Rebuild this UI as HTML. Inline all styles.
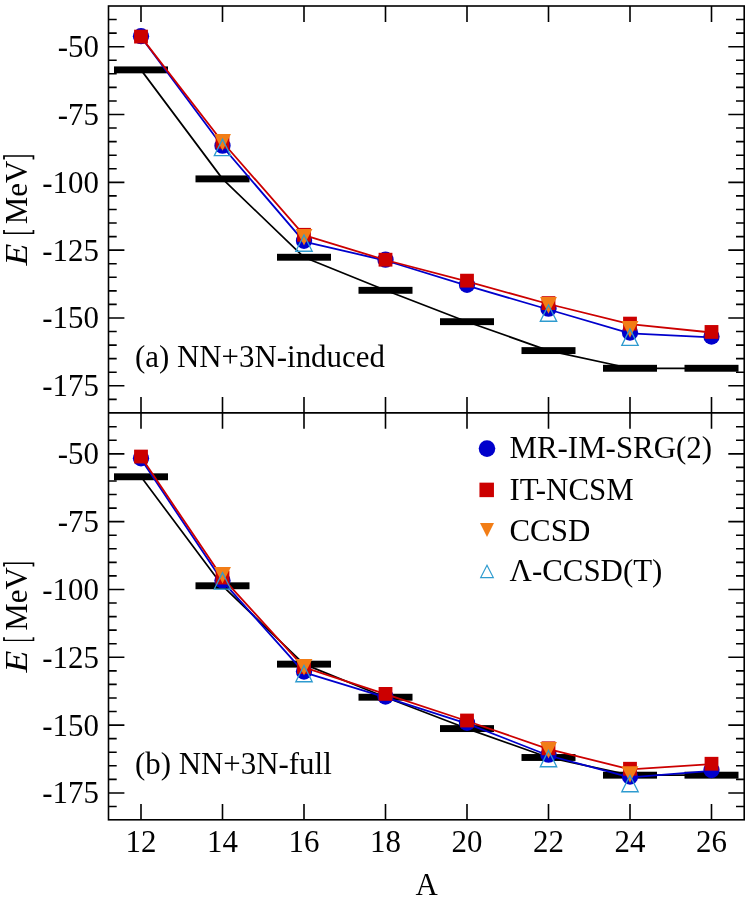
<!DOCTYPE html>
<html><head><meta charset="utf-8"><title>chart</title>
<style>html,body{margin:0;padding:0;background:#fff}body{width:747px;height:898px;position:relative;overflow:hidden;font-family:"Liberation Serif",serif}</style>
</head><body>
<svg width="747" height="898" viewBox="0 0 747 898" style="position:absolute;left:0;top:0">
<rect x="0" y="0" width="747" height="898" fill="#fff"/>
<path d="M141.00 6.0 v15.9 M141.00 397.0 v31.8 M141.00 819.8 v-15.9 M222.50 6.0 v15.9 M222.50 397.0 v31.8 M222.50 819.8 v-15.9 M304.00 6.0 v15.9 M304.00 397.0 v31.8 M304.00 819.8 v-15.9 M385.50 6.0 v15.9 M385.50 397.0 v31.8 M385.50 819.8 v-15.9 M467.00 6.0 v15.9 M467.00 397.0 v31.8 M467.00 819.8 v-15.9 M548.50 6.0 v15.9 M548.50 397.0 v31.8 M548.50 819.8 v-15.9 M630.00 6.0 v15.9 M630.00 397.0 v31.8 M630.00 819.8 v-15.9 M711.50 6.0 v15.9 M711.50 397.0 v31.8 M711.50 819.8 v-15.9 M108.5 399.34 h8.2 M744.2 399.34 h-8.2 M108.5 385.78 h15.9 M744.2 385.78 h-15.9 M108.5 372.21 h8.2 M744.2 372.21 h-8.2 M108.5 358.65 h8.2 M744.2 358.65 h-8.2 M108.5 345.09 h8.2 M744.2 345.09 h-8.2 M108.5 331.52 h8.2 M744.2 331.52 h-8.2 M108.5 317.96 h15.9 M744.2 317.96 h-15.9 M108.5 304.40 h8.2 M744.2 304.40 h-8.2 M108.5 290.83 h8.2 M744.2 290.83 h-8.2 M108.5 277.27 h8.2 M744.2 277.27 h-8.2 M108.5 263.71 h8.2 M744.2 263.71 h-8.2 M108.5 250.14 h15.9 M744.2 250.14 h-15.9 M108.5 236.58 h8.2 M744.2 236.58 h-8.2 M108.5 223.02 h8.2 M744.2 223.02 h-8.2 M108.5 209.45 h8.2 M744.2 209.45 h-8.2 M108.5 195.89 h8.2 M744.2 195.89 h-8.2 M108.5 182.33 h15.9 M744.2 182.33 h-15.9 M108.5 168.76 h8.2 M744.2 168.76 h-8.2 M108.5 155.20 h8.2 M744.2 155.20 h-8.2 M108.5 141.63 h8.2 M744.2 141.63 h-8.2 M108.5 128.07 h8.2 M744.2 128.07 h-8.2 M108.5 114.51 h15.9 M744.2 114.51 h-15.9 M108.5 100.94 h8.2 M744.2 100.94 h-8.2 M108.5 87.38 h8.2 M744.2 87.38 h-8.2 M108.5 73.82 h8.2 M744.2 73.82 h-8.2 M108.5 60.25 h8.2 M744.2 60.25 h-8.2 M108.5 46.69 h15.9 M744.2 46.69 h-15.9 M108.5 33.13 h8.2 M744.2 33.13 h-8.2 M108.5 19.56 h8.2 M744.2 19.56 h-8.2 M108.5 806.49 h8.2 M744.2 806.49 h-8.2 M108.5 792.93 h15.9 M744.2 792.93 h-15.9 M108.5 779.36 h8.2 M744.2 779.36 h-8.2 M108.5 765.80 h8.2 M744.2 765.80 h-8.2 M108.5 752.24 h8.2 M744.2 752.24 h-8.2 M108.5 738.67 h8.2 M744.2 738.67 h-8.2 M108.5 725.11 h15.9 M744.2 725.11 h-15.9 M108.5 711.55 h8.2 M744.2 711.55 h-8.2 M108.5 697.98 h8.2 M744.2 697.98 h-8.2 M108.5 684.42 h8.2 M744.2 684.42 h-8.2 M108.5 670.86 h8.2 M744.2 670.86 h-8.2 M108.5 657.29 h15.9 M744.2 657.29 h-15.9 M108.5 643.73 h8.2 M744.2 643.73 h-8.2 M108.5 630.17 h8.2 M744.2 630.17 h-8.2 M108.5 616.60 h8.2 M744.2 616.60 h-8.2 M108.5 603.04 h8.2 M744.2 603.04 h-8.2 M108.5 589.48 h15.9 M744.2 589.48 h-15.9 M108.5 575.91 h8.2 M744.2 575.91 h-8.2 M108.5 562.35 h8.2 M744.2 562.35 h-8.2 M108.5 548.78 h8.2 M744.2 548.78 h-8.2 M108.5 535.22 h8.2 M744.2 535.22 h-8.2 M108.5 521.66 h15.9 M744.2 521.66 h-15.9 M108.5 508.09 h8.2 M744.2 508.09 h-8.2 M108.5 494.53 h8.2 M744.2 494.53 h-8.2 M108.5 480.97 h8.2 M744.2 480.97 h-8.2 M108.5 467.40 h8.2 M744.2 467.40 h-8.2 M108.5 453.84 h15.9 M744.2 453.84 h-15.9 M108.5 440.28 h8.2 M744.2 440.28 h-8.2 M108.5 426.71 h8.2 M744.2 426.71 h-8.2" stroke="#000" stroke-width="1.6" fill="none"/>
<clipPath id="ca"><rect x="108.5" y="6.0" width="635.7" height="406.9"/></clipPath>
<clipPath id="cb"><rect x="108.5" y="412.9" width="635.7" height="406.9"/></clipPath>
<g clip-path="url(#ca)">
<polyline points="141.00,69.88 222.50,178.88 304.00,257.25 385.50,290.32 467.00,321.68 548.50,350.59 630.00,368.28 711.50,368.28" stroke="#000" stroke-width="1.7" fill="none" stroke-linejoin="round"/>
<rect x="114.00" y="66.43" width="54.00" height="6.9" fill="#000"/>
<rect x="195.50" y="175.43" width="54.00" height="6.9" fill="#000"/>
<rect x="277.00" y="253.80" width="54.00" height="6.9" fill="#000"/>
<rect x="358.50" y="286.87" width="54.00" height="6.9" fill="#000"/>
<rect x="440.00" y="318.23" width="54.00" height="6.9" fill="#000"/>
<rect x="521.50" y="347.14" width="54.00" height="6.9" fill="#000"/>
<rect x="603.00" y="364.83" width="54.00" height="6.9" fill="#000"/>
<rect x="684.50" y="364.83" width="54.00" height="6.9" fill="#000"/>
<polyline points="141.00,37.00 222.50,146.50 304.00,241.60 385.50,260.50 467.00,285.60 548.50,309.50 630.00,333.30 711.50,337.30" stroke="#0000cc" stroke-width="1.8" fill="none" stroke-linejoin="round"/>
<circle cx="141.00" cy="36.20" r="8.15" fill="#0000cc"/>
<circle cx="222.50" cy="145.70" r="8.15" fill="#0000cc"/>
<circle cx="304.00" cy="240.80" r="8.15" fill="#0000cc"/>
<circle cx="385.50" cy="259.70" r="8.15" fill="#0000cc"/>
<circle cx="467.00" cy="284.80" r="8.15" fill="#0000cc"/>
<circle cx="548.50" cy="308.70" r="8.15" fill="#0000cc"/>
<circle cx="630.00" cy="332.50" r="8.15" fill="#0000cc"/>
<circle cx="711.50" cy="336.50" r="8.15" fill="#0000cc"/>
<polyline points="141.00,36.90 222.50,142.00 304.00,235.10 385.50,260.00 467.00,281.45 548.50,304.00 630.00,324.15 711.50,332.50" stroke="#cc0000" stroke-width="1.8" fill="none" stroke-linejoin="round"/>
<rect x="134.10" y="29.70" width="13.8" height="13.8" fill="#cc0000"/>
<rect x="215.60" y="134.80" width="13.8" height="13.8" fill="#cc0000"/>
<rect x="297.10" y="227.90" width="13.8" height="13.8" fill="#cc0000"/>
<rect x="378.60" y="252.80" width="13.8" height="13.8" fill="#cc0000"/>
<rect x="460.10" y="273.75" width="13.8" height="13.8" fill="#cc0000"/>
<rect x="541.60" y="296.20" width="13.8" height="13.8" fill="#cc0000"/>
<rect x="623.10" y="316.70" width="13.8" height="13.8" fill="#cc0000"/>
<rect x="704.60" y="325.05" width="13.8" height="13.8" fill="#cc0000"/>
<polygon points="214.05,134.10 230.95,134.10 222.50,150.70" fill="#f27d16"/>
<polygon points="295.55,229.00 312.45,229.00 304.00,245.60" fill="#f27d16"/>
<polygon points="540.05,297.05 556.95,297.05 548.50,313.65" fill="#f27d16"/>
<polygon points="621.55,321.10 638.45,321.10 630.00,337.70" fill="#f27d16"/>
<polygon points="214.30,155.65 230.70,155.65 222.50,139.25" fill="none" stroke="#2e9bcf" stroke-width="1.3" stroke-linejoin="miter"/>
<polygon points="295.80,251.25 312.20,251.25 304.00,234.85" fill="none" stroke="#2e9bcf" stroke-width="1.3" stroke-linejoin="miter"/>
<polygon points="540.30,321.25 556.70,321.25 548.50,304.85" fill="none" stroke="#2e9bcf" stroke-width="1.3" stroke-linejoin="miter"/>
<polygon points="621.80,345.40 638.20,345.40 630.00,329.00" fill="none" stroke="#2e9bcf" stroke-width="1.3" stroke-linejoin="miter"/>
</g>
<g clip-path="url(#cb)">
<polyline points="141.00,476.78 222.50,585.78 304.00,664.15 385.50,697.22 467.00,728.58 548.50,757.49 630.00,775.18 711.50,775.18" stroke="#000" stroke-width="1.7" fill="none" stroke-linejoin="round"/>
<rect x="114.00" y="473.33" width="54.00" height="6.9" fill="#000"/>
<rect x="195.50" y="582.33" width="54.00" height="6.9" fill="#000"/>
<rect x="277.00" y="660.70" width="54.00" height="6.9" fill="#000"/>
<rect x="358.50" y="693.77" width="54.00" height="6.9" fill="#000"/>
<rect x="440.00" y="725.13" width="54.00" height="6.9" fill="#000"/>
<rect x="521.50" y="754.04" width="54.00" height="6.9" fill="#000"/>
<rect x="603.00" y="771.73" width="54.00" height="6.9" fill="#000"/>
<rect x="684.50" y="771.73" width="54.00" height="6.9" fill="#000"/>
<polyline points="141.00,459.10 222.50,581.20 304.00,672.40 385.50,697.30 467.00,723.55 548.50,755.50 630.00,777.30 711.50,770.80" stroke="#0000cc" stroke-width="1.8" fill="none" stroke-linejoin="round"/>
<circle cx="141.00" cy="458.30" r="8.15" fill="#0000cc"/>
<circle cx="222.50" cy="580.40" r="8.15" fill="#0000cc"/>
<circle cx="304.00" cy="671.60" r="8.15" fill="#0000cc"/>
<circle cx="385.50" cy="696.50" r="8.15" fill="#0000cc"/>
<circle cx="467.00" cy="722.75" r="8.15" fill="#0000cc"/>
<circle cx="548.50" cy="754.70" r="8.15" fill="#0000cc"/>
<circle cx="630.00" cy="776.50" r="8.15" fill="#0000cc"/>
<circle cx="711.50" cy="770.00" r="8.15" fill="#0000cc"/>
<polyline points="141.00,456.85 222.50,577.80 304.00,667.30 385.50,694.20 467.00,721.00 548.50,749.10 630.00,769.35 711.50,764.05" stroke="#cc0000" stroke-width="1.8" fill="none" stroke-linejoin="round"/>
<rect x="134.10" y="449.65" width="13.8" height="13.8" fill="#cc0000"/>
<rect x="215.60" y="570.60" width="13.8" height="13.8" fill="#cc0000"/>
<rect x="297.10" y="660.10" width="13.8" height="13.8" fill="#cc0000"/>
<rect x="378.60" y="687.00" width="13.8" height="13.8" fill="#cc0000"/>
<rect x="460.10" y="713.60" width="13.8" height="13.8" fill="#cc0000"/>
<rect x="541.60" y="741.40" width="13.8" height="13.8" fill="#cc0000"/>
<rect x="623.10" y="761.85" width="13.8" height="13.8" fill="#cc0000"/>
<rect x="704.60" y="756.85" width="13.8" height="13.8" fill="#cc0000"/>
<polygon points="214.05,567.00 230.95,567.00 222.50,583.60" fill="#f27d16"/>
<polygon points="295.55,659.00 312.45,659.00 304.00,675.60" fill="#f27d16"/>
<polygon points="540.05,741.90 556.95,741.90 548.50,758.50" fill="#f27d16"/>
<polygon points="621.55,766.25 638.45,766.25 630.00,782.85" fill="#f27d16"/>
<polygon points="214.30,589.05 230.70,589.05 222.50,572.65" fill="none" stroke="#2e9bcf" stroke-width="1.3" stroke-linejoin="miter"/>
<polygon points="295.80,681.75 312.20,681.75 304.00,665.35" fill="none" stroke="#2e9bcf" stroke-width="1.3" stroke-linejoin="miter"/>
<polygon points="540.30,766.75 556.70,766.75 548.50,750.35" fill="none" stroke="#2e9bcf" stroke-width="1.3" stroke-linejoin="miter"/>
<polygon points="621.80,791.75 638.20,791.75 630.00,775.35" fill="none" stroke="#2e9bcf" stroke-width="1.3" stroke-linejoin="miter"/>
</g>
<rect x="108.5" y="6.0" width="635.7" height="813.8" fill="none" stroke="#000" stroke-width="1.6"/>
<path d="M108.5 412.9 H744.2" stroke="#000" stroke-width="1.6"/>
<circle cx="487.0" cy="448.6" r="8.3" fill="#0000cc"/>
<rect x="479.45" y="482.65" width="14.5" height="14.5" fill="#cc0000"/>
<polygon points="480.0,523.05 494.0,523.05 487.0,537.1" fill="#f27d16"/>
<polygon points="480.7,577.6 493.3,577.6 487.0,565.2" fill="none" stroke="#2e9bcf" stroke-width="1.2"/>
<g style="font-family:'Liberation Serif',serif;font-size:30.9px;fill:#000" opacity="0.999">
<text x="98.9" y="57.09" text-anchor="end">-50</text>
<text x="98.9" y="124.91" text-anchor="end">-75</text>
<text x="98.9" y="192.73" text-anchor="end">-100</text>
<text x="98.9" y="260.54" text-anchor="end">-125</text>
<text x="98.9" y="328.36" text-anchor="end">-150</text>
<text x="98.9" y="396.18" text-anchor="end">-175</text>
<text x="98.9" y="464.24" text-anchor="end">-50</text>
<text x="98.9" y="532.06" text-anchor="end">-75</text>
<text x="98.9" y="599.88" text-anchor="end">-100</text>
<text x="98.9" y="667.69" text-anchor="end">-125</text>
<text x="98.9" y="735.51" text-anchor="end">-150</text>
<text x="98.9" y="803.33" text-anchor="end">-175</text>
<text x="141.00" y="851.6" text-anchor="middle">12</text>
<text x="222.50" y="851.6" text-anchor="middle">14</text>
<text x="304.00" y="851.6" text-anchor="middle">16</text>
<text x="385.50" y="851.6" text-anchor="middle">18</text>
<text x="467.00" y="851.6" text-anchor="middle">20</text>
<text x="548.50" y="851.6" text-anchor="middle">22</text>
<text x="630.00" y="851.6" text-anchor="middle">24</text>
<text x="711.50" y="851.6" text-anchor="middle">26</text>
<text x="426.6" y="895.2" text-anchor="middle">A</text>
<text x="135.0" y="366.6">(a) NN+3N-induced</text>
<text x="135.0" y="774.0">(b) NN+3N-full</text>
<text x="509.5" y="458.1">MR-IM-SRG(2)</text>
<text x="509.5" y="500.3">IT-NCSM</text>
<text x="509.5" y="540.6">CCSD</text>
<text x="509.5" y="581.3">&#923;-CCSD(T)</text>
<text transform="translate(26.8,265.50) rotate(-90) scale(1.16,1)" font-style="italic">E</text>
<text transform="translate(26.8,224.20) rotate(-90)">MeV</text>
<path d="M3.1 230.00 H4.9 V232.50 H32.6 V230.00 H34.3 V233.90 H3.1 Z" fill="#000"/>
<path d="M3.1 159.40 H4.9 V156.70 H32.6 V159.40 H34.3 V155.30 H3.1 Z" fill="#000"/>
<text transform="translate(26.8,672.50) rotate(-90) scale(1.16,1)" font-style="italic">E</text>
<text transform="translate(26.8,630.80) rotate(-90)">MeV</text>
<path d="M3.1 637.20 H4.9 V639.70 H32.6 V637.20 H34.3 V641.10 H3.1 Z" fill="#000"/>
<path d="M3.1 566.60 H4.9 V563.90 H32.6 V566.60 H34.3 V562.50 H3.1 Z" fill="#000"/>
</g>
</svg>
</body></html>
